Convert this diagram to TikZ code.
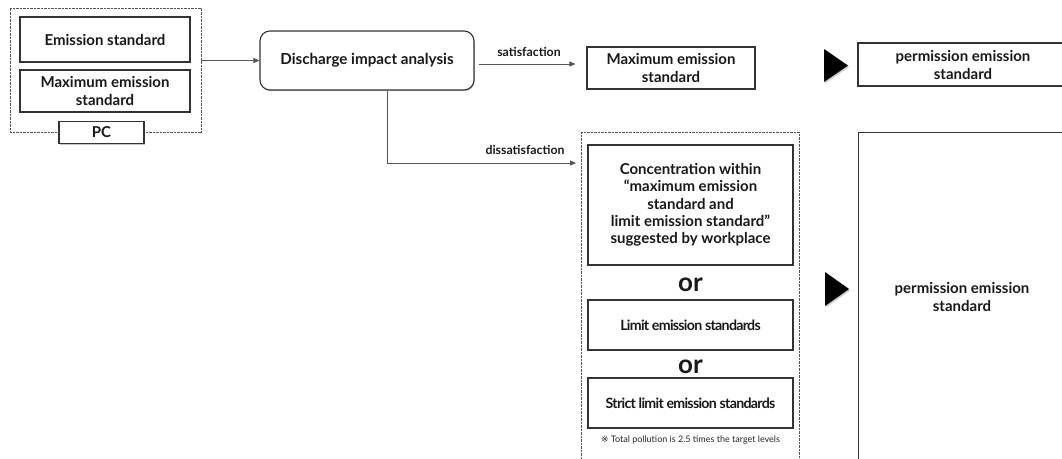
\documentclass[tikz,border=0pt]{standalone}
\usepackage{fontspec}
\setmainfont{Lato}
\newfontfamily\symfont{DejaVu Sans}
\newfontfamily\tightfont[LetterSpace=-5]{Lato}
\usetikzlibrary{shadows,arrows.meta,calc}
\definecolor{edge}{HTML}{333333}
\definecolor{conn}{HTML}{555555}
\begin{document}
\begin{tikzpicture}[x=1pt,y=-1pt,
  box/.style={draw=edge, line width=1.1pt, fill=white, align=center, inner sep=0pt,
    text=black!90, font=\bfseries\fontsize{15}{18}\selectfont,
    drop shadow={shadow xshift=0.8pt,shadow yshift=-1.2pt,opacity=0.45}},
  frame/.style={draw=conn, line width=0.7pt, dash pattern=on 0.7pt off 0.7pt, inner sep=0pt},
  arr/.style={draw=conn, line width=0.9pt, -{Triangle[length=6pt,width=5pt]}},
  lbl/.style={font=\bfseries\fontsize{12.3}{14}\selectfont, text=black!90, inner sep=0pt},
  ortext/.style={font=\bfseries\fontsize{26}{28}\selectfont, text=black!90, inner sep=0pt},
  permfont/.style={font=\bfseries\fontsize{15}{18}\selectfont},
  tri/.style={fill=black, drop shadow={shadow xshift=1pt,shadow yshift=-1.5pt,opacity=0.4}}
]
\useasboundingbox (0,0) rectangle (1062,458);
\clip (0,0) rectangle (1062,458);

% left group
\node[frame, minimum width=191pt, minimum height=124pt] (outer) at (105.5,70) {};
\node[box, minimum width=170pt, minimum height=45pt] (es) at (105,39.5) {Emission standard};
\node[box, minimum width=170pt, minimum height=42pt] (mes) at (105,91) {Maximum emission\\standard};
\node[box, minimum width=85pt, minimum height=22pt] (pc) at (101.5,132.5) {PC};

% analysis
\node[box, rounded corners=10pt, minimum width=214pt, minimum height=59pt, font=\bfseries\fontsize{15.2}{18}\selectfont] (dia) at (367,60.5) {Discharge impact analysis};
\draw[arr] (dia.west -| outer.east) -- (dia.west);

% satisfaction branch
\node[box, minimum width=168pt, minimum height=42pt] (mes2) at (671,68) {Maximum emission\\standard};
\draw[arr] ([shift={(4,3.5)}]dia.east) -- ([shift={(-11,-4)}]mes2.west);
\node[lbl] (sat) at (529,52) {satisfaction};
\fill[tri] (824,49) -- (848,65.5) -- (824,82) -- cycle;
\node[box, permfont, minimum width=210pt, minimum height=43pt] (perm1) at (963,64.5) {permission emission\\standard};

% dissatisfaction branch
\node[frame, minimum width=218pt, minimum height=340pt] (cont) at (590,132) [anchor=north west, xshift=-9pt] {};
\coordinate (dend) at (576,163);
\draw[arr] ([xshift=20pt]dia.south) |- (dend);
\node[lbl] (dis) at (525,150) {dissatisfaction};

\node[box, minimum width=205pt, minimum height=120pt, font=\bfseries\fontsize{15}{17.3}\selectfont] (conc) at (690.5,205)
  {Concentration within\\“maximum emission\\standard and\\limit emission standard”\\suggested by workplace};
\node[ortext] (or1) at (690.5,285) {or};
\node[box, minimum width=205pt, minimum height=50pt, font=\bfseries\tightfont\fontsize{14.2}{16}\selectfont] (lim) at (690.5,325) {Limit emission standards};
\node[ortext] (or2) at (690.5,367) {or};
\node[box, minimum width=205pt, minimum height=50pt, font=\bfseries\tightfont\fontsize{14.2}{16}\selectfont] (strict) at (690.5,403) {Strict limit emission standards};
\node[inner sep=0pt, font=\fontsize{9}{11}\selectfont, text=black!85] (note) at (690.5,440) {{\symfont ※} Total pollution is 2.5 times the target levels};

\fill[tri] (825,272) -- (849,289) -- (825,306) -- cycle;
\node[box, minimum width=222pt, minimum height=360pt, anchor=north west] (perm2) at (858,132) {};
\node[inner sep=0pt, align=center, permfont, text=black!90] (perm2t) at (962,297) {permission emission\\standard};
\end{tikzpicture}
\end{document}
